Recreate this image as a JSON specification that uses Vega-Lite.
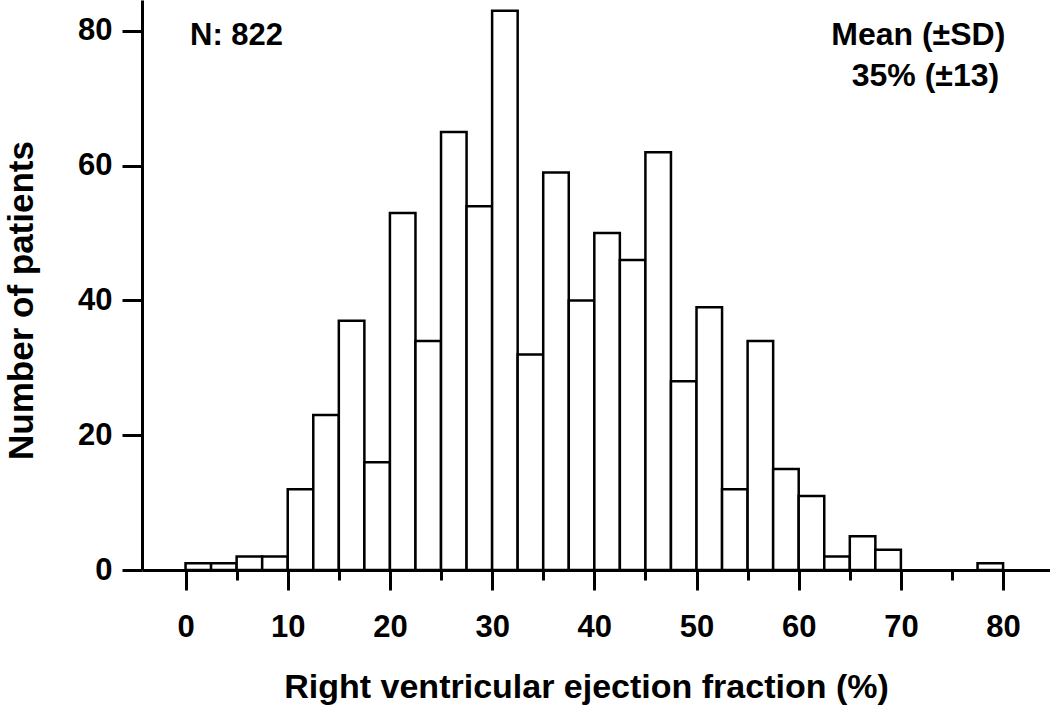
{
  "$schema": "https://vega.github.io/schema/vega-lite/v6.json",
  "autosize": "none",
  "width": 908,
  "height": 570,
  "padding": {"left": 142, "top": 0, "right": 0, "bottom": 140},
  "background": "white",
  "config": {
    "view": {"stroke": null},
    "font": "Liberation Sans",
    "axis": {
      "labelFont": "Liberation Sans",
      "labelFontWeight": "bold",
      "labelFontSize": 31,
      "labelColor": "black",
      "titleFont": "Liberation Sans",
      "titleFontWeight": "bold",
      "titleFontSize": 34,
      "titleColor": "black",
      "domainColor": "black",
      "domainWidth": 3,
      "tickColor": "black",
      "tickWidth": 3,
      "grid": false
    }
  },
  "layer": [
    {
      "data": {
        "values": [
          {"bin_start": 0, "bin_end": 2.5, "count": 1},
          {"bin_start": 2.5, "bin_end": 5, "count": 1},
          {"bin_start": 5, "bin_end": 7.5, "count": 2},
          {"bin_start": 7.5, "bin_end": 10, "count": 2},
          {"bin_start": 10, "bin_end": 12.5, "count": 12},
          {"bin_start": 12.5, "bin_end": 15, "count": 23},
          {"bin_start": 15, "bin_end": 17.5, "count": 37},
          {"bin_start": 17.5, "bin_end": 20, "count": 16},
          {"bin_start": 20, "bin_end": 22.5, "count": 53},
          {"bin_start": 22.5, "bin_end": 25, "count": 34},
          {"bin_start": 25, "bin_end": 27.5, "count": 65},
          {"bin_start": 27.5, "bin_end": 30, "count": 54},
          {"bin_start": 30, "bin_end": 32.5, "count": 83},
          {"bin_start": 32.5, "bin_end": 35, "count": 32},
          {"bin_start": 35, "bin_end": 37.5, "count": 59},
          {"bin_start": 37.5, "bin_end": 40, "count": 40},
          {"bin_start": 40, "bin_end": 42.5, "count": 50},
          {"bin_start": 42.5, "bin_end": 45, "count": 46},
          {"bin_start": 45, "bin_end": 47.5, "count": 62},
          {"bin_start": 47.5, "bin_end": 50, "count": 28},
          {"bin_start": 50, "bin_end": 52.5, "count": 39},
          {"bin_start": 52.5, "bin_end": 55, "count": 12},
          {"bin_start": 55, "bin_end": 57.5, "count": 34},
          {"bin_start": 57.5, "bin_end": 60, "count": 15},
          {"bin_start": 60, "bin_end": 62.5, "count": 11},
          {"bin_start": 62.5, "bin_end": 65, "count": 2},
          {"bin_start": 65, "bin_end": 67.5, "count": 5},
          {"bin_start": 67.5, "bin_end": 70, "count": 3},
          {"bin_start": 77.5, "bin_end": 80, "count": 1}
        ]
      },
      "mark": {"type": "rect", "fill": "white", "stroke": "black", "strokeWidth": 2.5},
      "encoding": {
        "x": {
          "field": "bin_start",
          "type": "quantitative",
          "scale": {"domain": [-4.26, 84.59], "nice": false, "zero": false},
          "axis": {
            "title": "Right ventricular ejection fraction (%)",
            "values": [0, 5, 10, 15, 20, 25, 30, 35, 40, 45, 50, 55, 60, 65, 70, 75, 80],
            "labelExpr": "datum.value % 10 === 0 ? datum.label : ''",
            "tickSize": {"condition": {"test": "datum.value % 10 === 0", "value": 20}, "value": 10},
            "labelPadding": 22,
            "titlePadding": 28,
            "titleX": 444
          }
        },
        "x2": {"field": "bin_end"},
        "y": {
          "field": "count",
          "type": "quantitative",
          "scale": {"domain": [0, 84.6], "nice": false},
          "axis": {
            "title": "Number of patients",
            "values": [0, 20, 40, 60, 80],
            "tickSize": 20,
            "labelPadding": 10,
            "titlePadding": 38,
            "titleFontSize": 35,
            "titleY": 300
          }
        },
        "y2": {"datum": 0}
      }
    },
    {
      "data": {
        "values": [
          {"x": 0.44, "y": 79.3, "label": "N: 822"}
        ]
      },
      "mark": {"type": "text", "align": "left", "baseline": "middle", "fontSize": 31, "fontWeight": "bold", "font": "Liberation Sans", "color": "black"},
      "encoding": {
        "x": {"field": "x", "type": "quantitative"},
        "y": {"field": "y", "type": "quantitative"},
        "text": {"field": "label"}
      }
    },
    {
      "data": {
        "values": [
          {"x": 71.7, "y": 79.4, "label": "Mean (±SD)"},
          {"x": 72.4, "y": 73.3, "label": "35% (±13)"}
        ]
      },
      "mark": {"type": "text", "align": "center", "baseline": "middle", "fontSize": 32, "fontWeight": "bold", "font": "Liberation Sans", "color": "black"},
      "encoding": {
        "x": {"field": "x", "type": "quantitative"},
        "y": {"field": "y", "type": "quantitative"},
        "text": {"field": "label"}
      }
    }
  ]
}
